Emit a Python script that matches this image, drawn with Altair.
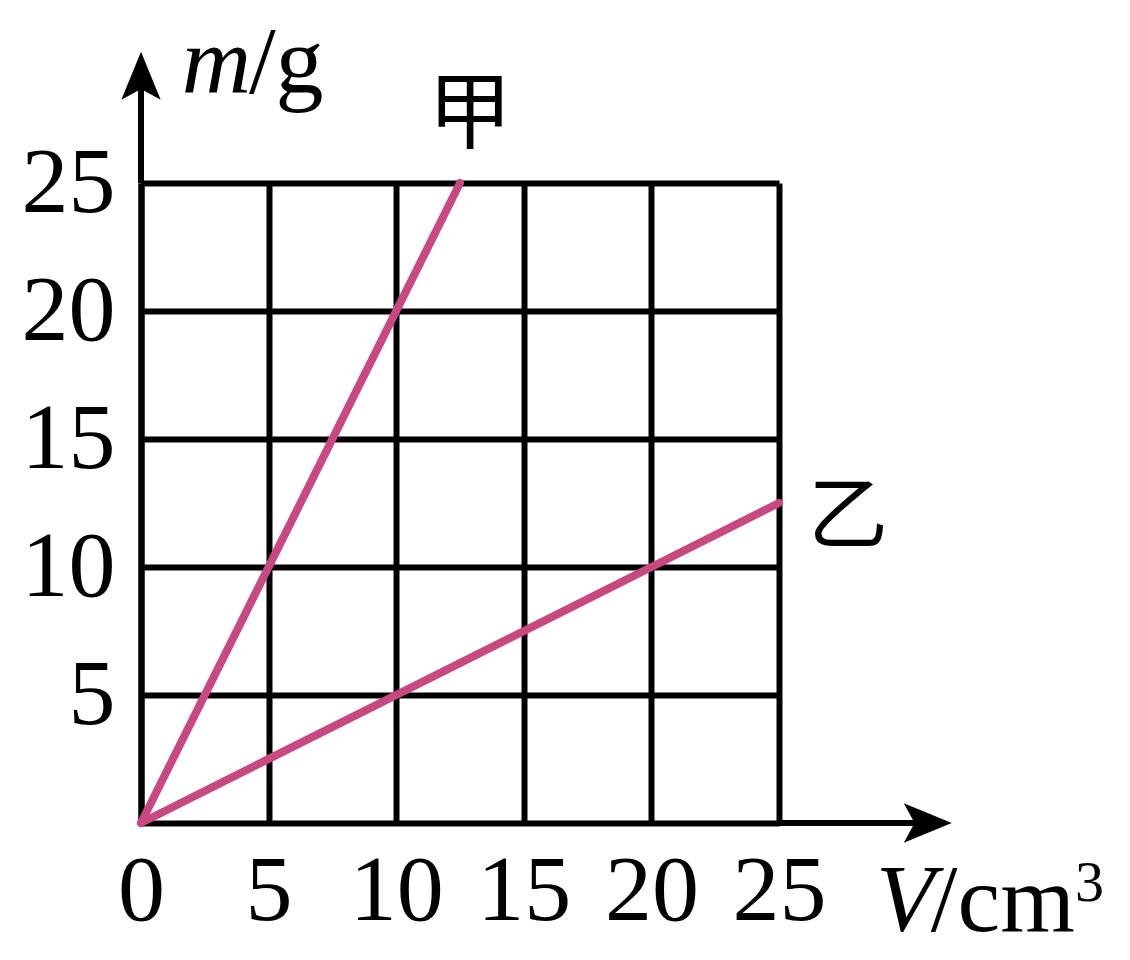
import altair as alt
import pandas as pd

# data
series = ["甲", "甲", "乙", "乙"]
volume = [0, 12.5, 0, 25]
mass = [0, 25, 0, 12.5]
tick_x = [0, 5, 10, 15, 20, 25]
tick_y = [5, 10, 15, 20, 25]

df = pd.DataFrame({"series": series, "V": volume, "m": mass})

PINK = "#c84882"
SERIF = "Liberation Serif"
CJK = "Noto Sans CJK SC"
LW = 6

xscale = alt.Scale(domain=[0, 25], nice=False, zero=False)
yscale = alt.Scale(domain=[0, 25], nice=False, zero=False)

xaxis = alt.Axis(values=tick_x, grid=True, gridColor="black", gridWidth=LW, gridOpacity=1,
                 domain=True, domainColor="black", domainWidth=LW, ticks=False, tickSize=0,
                 labelFont=SERIF, labelFontSize=94, labelColor="black", labelPadding=22,
                 labelFlush=False, labelOverlap=False, title=None, zindex=0)
yaxis = alt.Axis(values=tick_y, grid=True, gridColor="black", gridWidth=LW, gridOpacity=1,
                 domain=True, domainColor="black", domainWidth=LW, ticks=False, tickSize=0,
                 labelFont=SERIF, labelFontSize=94, labelColor="black", labelPadding=26,
                 labelFlush=False, labelOverlap=False, title=None, zindex=0)

lines = alt.Chart(df).mark_line(color=PINK, strokeWidth=8, strokeCap="round", clip=False).encode(
    x=alt.X("V:Q", scale=xscale, axis=xaxis),
    y=alt.Y("m:Q", scale=yscale, axis=yaxis),
    detail="series:N",
)

# axis extensions
xext = alt.Chart().mark_rule(color="black", strokeWidth=LW, clip=False).encode(
    x=alt.datum(25), x2=alt.datum(30.5), y=alt.datum(0))
yext = alt.Chart().mark_rule(color="black", strokeWidth=LW, clip=False).encode(
    x=alt.datum(0), y=alt.datum(25), y2=alt.datum(29))

ARROW = "M1,0L-1,-0.82L-0.55,0L-1,0.82Z"
xarrow = alt.Chart().mark_point(shape=ARROW, filled=True, color="black", opacity=1,
                                size=2304, strokeWidth=0, clip=False).encode(
    x=alt.datum(30.83), y=alt.datum(0))
yarrow = alt.Chart().mark_point(shape=ARROW, filled=True, color="black", opacity=1,
                                size=2304, strokeWidth=0, angle=270, clip=False).encode(
    x=alt.datum(0), y=alt.datum(29.19))

def txt(s, x, y, font, size, style="normal", align="left", baseline="alphabetic"):
    return alt.Chart().mark_text(text=s, font=font, fontSize=size, fontStyle=style,
                                 align=align, baseline=baseline, color="black", clip=False).encode(
        x=alt.datum(x), y=alt.datum(y))

labels = [
    txt("甲", 12.89, 27.58, CJK, 84, align="center", baseline="middle"),
    txt("乙", 27.70, 11.91, CJK, 80, align="center", baseline="middle"),
    txt("m", 1.60, 28.52, SERIF, 96, style="italic"),
    txt("/g", 4.23, 28.52, SERIF, 96),
    txt("V", 28.80, -4.22, SERIF, 96, style="italic"),
    txt("/cm", 30.95, -4.22, SERIF, 96),
    txt("3", 36.6, -3.05, SERIF, 58),
]

chart = alt.layer(lines, xext, yext, xarrow, yarrow, *labels).properties(
    width=638, height=640,
    padding={"left": 133, "top": 175, "right": 330, "bottom": 130},
    autosize=alt.AutoSizeParams(type="none"),
).configure_view(stroke=None).configure(background="white")

chart.save("out.html", embed_options={"renderer": "svg", "actions": False})
